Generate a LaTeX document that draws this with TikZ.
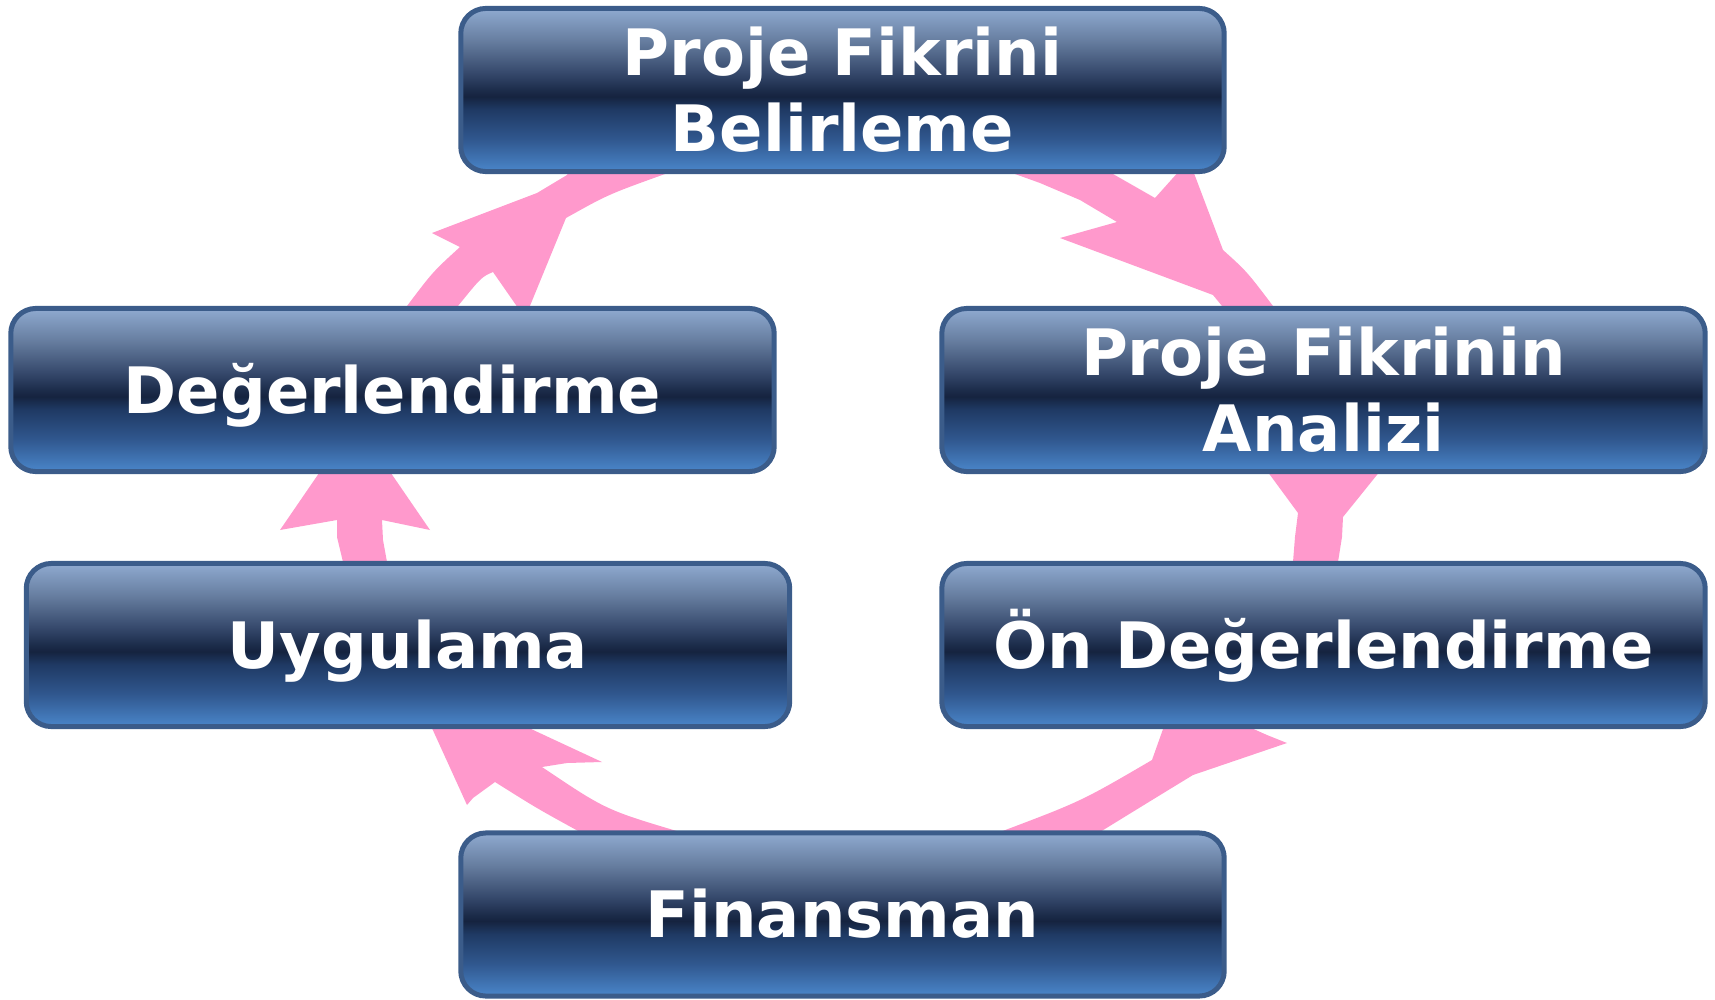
\documentclass[tikz,border=0pt]{standalone}
\usepackage{fontspec}
\newfontfamily\stagefont{DejaVu Sans}

% colours of the cycle band and of the stage boxes
\definecolor{cyclepink}{RGB}{255,153,204}
\definecolor{edgeblue}{RGB}{59,92,138}
\definecolor{shA}{HTML}{4A86CA}
\definecolor{shB}{HTML}{30578E}
\definecolor{shC}{HTML}{1F3A64}
\definecolor{shD}{HTML}{15233F}
\definecolor{shE}{HTML}{1C2C4A}
\definecolor{shF}{HTML}{34476A}
\definecolor{shG}{HTML}{667D9F}
\definecolor{shH}{HTML}{8FAAD0}

% glossy vertical fill of the boxes (path spans 25bp..75bp)
\pgfdeclareverticalshading{stageshade}{100bp}{%
  color(0bp)=(shA); color(25bp)=(shA); color(35bp)=(shB); color(44bp)=(shC);
  color(48bp)=(shD); color(50bp)=(shE); color(55bp)=(shF); color(65bp)=(shG);
  color(75bp)=(shH); color(100bp)=(shH)}

\begin{document}
\begin{tikzpicture}[x=0.01cm, y=-0.01cm,
  stage/.style={shade, shading=stageshade, draw=edgeblue, line width=0.05cm,
    rounded corners=0.25cm, minimum width=7.63cm, minimum height=1.63cm,
    inner sep=0pt, align=center, text=white, text height=13.3pt, text depth=0pt,
    font=\stagefont\bfseries\fontsize{18.2}{21.6}\selectfont},
  twoline/.style={text height=34.9pt, text depth=0pt},
  flow/.style={fill=cyclepink, draw=none}]

\useasboundingbox (0,0) rectangle (1715,1000);

% pink cycle band, drawn under the boxes
% upper left
\fill[flow] (580,150) -- (567,175) -- (537,193) -- (432,233) -- (460,247)
  .. controls (432.8,271.8) .. (407,306) -- (401,318) -- (446,318) -- (458,306)
  .. controls (481.5,277) .. (493,272) -- (525,318) -- (566,218)
  .. controls (608,194.5) .. (665,174) -- (680,150) -- cycle;
% upper right
\fill[flow] (976,160) -- (1015,174) -- (1040,183) -- (1080,200) -- (1117,222)
  -- (1060,238) -- (1213,295) -- (1222,306) -- (1232,320) -- (1280,320)
  -- (1273,306) .. controls (1246.7,271.3) .. (1223,250) -- (1189,160)
  -- (1155,198) -- (1113,174) -- (1088,160) -- cycle;
% left middle
\fill[flow] (328,460) -- (280,530) -- (337,520) -- (337,537) -- (343,562)
  -- (345,575) -- (389,575) -- (387,562) -- (383,540) -- (382,520) -- (430,530)
  -- (382,460) -- cycle;
% right middle
\fill[flow] (1259,460) -- (1298,513) -- (1295,537) -- (1293,562) -- (1292,575)
  -- (1338,575) -- (1338,562) -- (1342,537) -- (1343,517) -- (1389,460) -- cycle;
% lower left
\fill[flow] (426,715) -- (467,805) -- (473,798) -- (495,782)
  .. controls (536.8,808.3) .. (580,832) -- (585,845) -- (690,845) -- (680,832)
  .. controls (605.7,809.8) .. (542,767) -- (567,763) -- (602,762) -- (501,715) -- cycle;
% lower right
\fill[flow] (1168,715) -- (1222,715) -- (1267,735) -- (1287,743) -- (1193,775)
  .. controls (1160.5,794.8) .. (1100,832) -- (1095,845) -- (995,845) -- (1000,832)
  .. controls (1081.3,801.3) .. (1152,760) -- cycle;

% stages of the project cycle
\node[stage, twoline] (idea)     at (842.5,90)    {Proje Fikrini\\Belirleme};
\node[stage, twoline] (analysis) at (1323.5,390)  {Proje Fikrinin\\Analizi};
\node[stage]          (preeval)  at (1323.5,645)  {Ön Değerlendirme};
\node[stage]          (finance)  at (842.5,914.5) {Finansman};
\node[stage]          (apply)    at (408,645)     {Uygulama};
\node[stage]          (review)   at (392.5,390)   {Değerlendirme};

\end{tikzpicture}
\end{document}
